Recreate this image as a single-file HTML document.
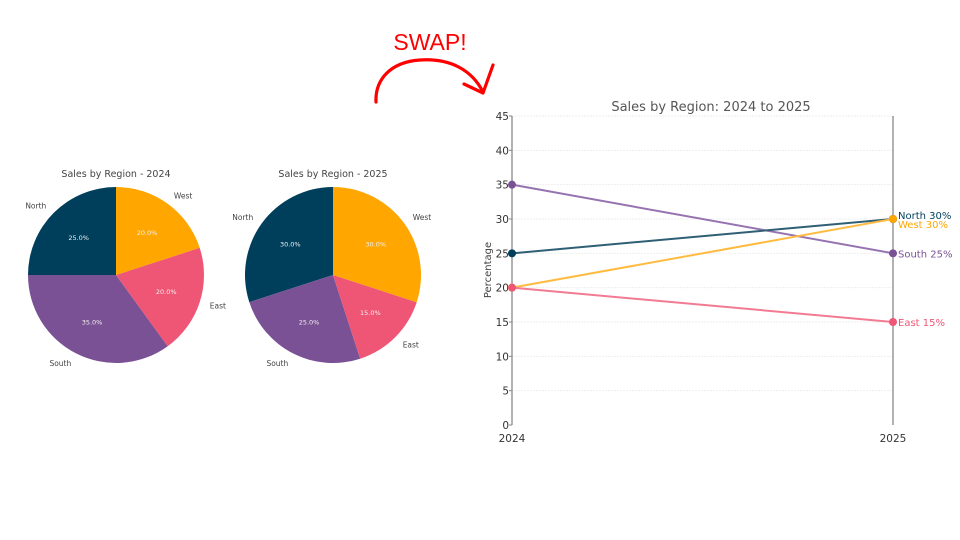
<!DOCTYPE html>
<html><head><meta charset="utf-8"><style>
html,body{margin:0;padding:0;background:#fff;}
svg{display:block;font-family:"DejaVu Sans","Liberation Sans",sans-serif;}
</style></head><body>
<svg id="root" width="960" height="540" viewBox="0 0 960 540" xmlns="http://www.w3.org/2000/svg">
<g>
<text x="430" y="50" text-anchor="middle" font-family="Liberation Sans, sans-serif" font-size="23" fill="#ff0000">SWAP!</text>
<path d="M376,102 C375,80 390,62 420,60 C450,58 472,70 483,92" fill="none" stroke="#ff0000" stroke-width="3.2" stroke-linecap="round"/>
<path d="M493,65 L483,93 L464,84" fill="none" stroke="#ff0000" stroke-width="3.2" stroke-linecap="round" stroke-linejoin="round"/>
</g>
<g id="pies"></g>
<g id="slope"></g>
</svg>
<script>
const regions = ["North","South","East","West"];
const colors = ["#003f5c","#7a5195","#ef5675","#ffa600"];
const share2024 = [25,35,20,20];
const share2025 = [30,25,15,30];
const years = ["2024","2025"];
const yTicks = [0,5,10,15,20,25,30,35,40,45];

const NS="http://www.w3.org/2000/svg";
function mk(tag,attrs,parent,text){const e=document.createElementNS(NS,tag);for(const k in attrs)e.setAttribute(k,attrs[k]);if(text!==undefined)e.textContent=text;parent.appendChild(e);return e;}

const pies=document.getElementById('pies');
function drawPie(cx,cy,r,vals,title){
  const t=mk('text',{x:cx,y:177,'text-anchor':'middle','font-size':9.5,fill:'#444'},pies,title);
  
  
  const total=vals.reduce((a,b)=>a+b,0);
  let a=90;
  vals.forEach((v,i)=>{
    const sweep=v/total*360;
    const a0=a*Math.PI/180,a1=(a+sweep)*Math.PI/180;
    const x0=cx+r*Math.cos(a0),y0=cy-r*Math.sin(a0),x1=cx+r*Math.cos(a1),y1=cy-r*Math.sin(a1);
    const p=mk('path',{d:`M${cx},${cy} L${x0},${y0} A${r},${r} 0 ${sweep>180?1:0} 0 ${x1},${y1} Z`,fill:colors[i]},pies);
    
    
    const m=(a+sweep/2)*Math.PI/180;
    const pl=mk('text',{x:cx+0.6*r*Math.cos(m),y:cy-0.6*r*Math.sin(m)+2.5,'text-anchor':'middle','font-size':6.5,fill:'#f0f0f0'},pies,(v/total*100).toFixed(1)+'%');
    
    
    const lx=cx+1.12*r*Math.cos(m),ly=cy-1.12*r*Math.sin(m);
    const ol=mk('text',{x:lx,y:ly+3,'text-anchor':Math.cos(m)<-0.05?'end':(Math.cos(m)>0.05?'start':'middle'),'font-size':7.5,fill:'#444'},pies,regions[i]);
    
    
    a+=sweep;
  });
}
drawPie(116,275,88,share2024,'Sales by Region - 2024');
drawPie(333,275,88,share2025,'Sales by Region - 2025');

const g=document.getElementById('slope');
const X0=512,X1=893,Y0=425,Y45=116;
const xs=i=>X0+(X1-X0)*i;
const ys=v=>Y0-(Y0-Y45)*v/45;
const tt=mk('text',{x:711,y:111,'text-anchor':'middle','font-size':13,fill:'#555'},g,'Sales by Region: 2024 to 2025');


yTicks.forEach(v=>{
  if(v>0){const gl=mk('line',{x1:X0,x2:X1,y1:ys(v),y2:ys(v),stroke:'#eee','stroke-width':1,'stroke-dasharray':'2,1'},g);
  }
  const tk=mk('line',{x1:X0-3,x2:X0,y1:ys(v),y2:ys(v),stroke:'#888'},g);
  
  const tl=mk('text',{x:X0-3,y:ys(v)+4,'text-anchor':'end','font-size':10.5,fill:'#333'},g,String(v));
  
});
const ax=mk('line',{x1:X0,x2:X0,y1:Y45,y2:Y0,stroke:'#888','stroke-width':1.3},g);

const ax2=mk('line',{x1:X1,x2:X1,y1:Y45,y2:Y0,stroke:'#888','stroke-width':1.3},g);

const yt=mk('text',{x:491,y:270,'text-anchor':'middle','font-size':10,fill:'#444',transform:'rotate(-90 491 270)'},g,'Percentage');

years.forEach((y,i)=>{
  const xl=mk('text',{x:xs(i),y:442,'text-anchor':'middle','font-size':10.5,fill:'#333'},g,y);
  
});
const order=[1,0,3,2];
order.forEach(i=>{
  const v0=share2024[i],v1=share2025[i],c=colors[i]==='#ffa600'?'#ffb833':colors[i];
  const ln=mk('line',{x1:xs(0),y1:ys(v0),x2:xs(1),y2:ys(v1),stroke:i===0?'#2f5f75':(i===1?'#9673b0':(i===2?'#f27a93':'#ffbb40')),'stroke-width':2},g);
  
  [[0,v0],[1,v1]].forEach(([k,v])=>{
    const d=mk('circle',{cx:xs(k),cy:ys(v),r:4,fill:colors[i]},g);
    
  });
  let off=0;
  if(regions[i]==='North')off=-4; if(regions[i]==='West')off=5;
  const lb=mk('text',{x:xs(1)+5,y:ys(v1)+4+off,'font-size':10,fill:colors[i]},g,regions[i]+' '+v1+'%');
  
});
</script>
</body></html>
